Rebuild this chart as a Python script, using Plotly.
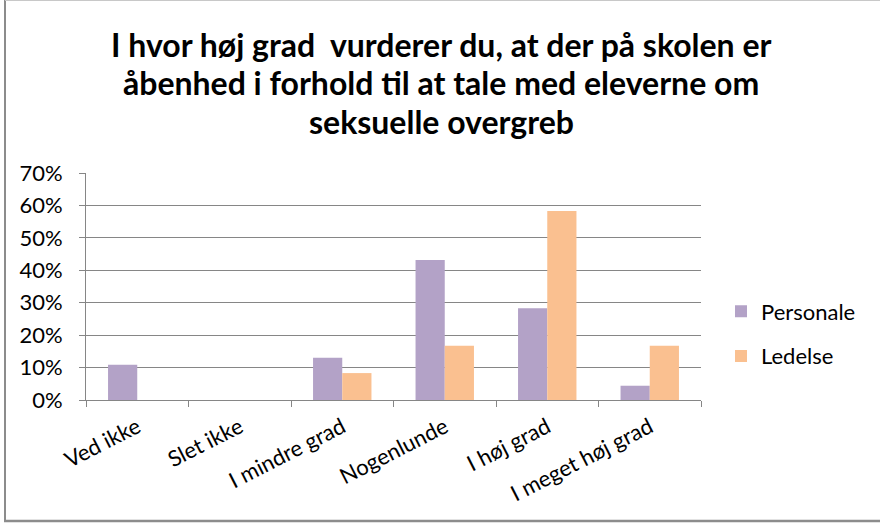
import plotly.graph_objects as go

categories = ["Ved ikke", "Slet ikke", "I mindre grad", "Nogenlunde", "I høj grad", "I meget høj grad"]
personale = [0.109, 0.0, 0.130, 0.432, 0.283, 0.044]
ledelse = [0.0, 0.0, 0.083, 0.167, 0.583, 0.167]
y_ticks = [0, 0.1, 0.2, 0.3, 0.4, 0.5, 0.6, 0.7]
title_lines = [
    "I hvor høj grad  vurderer du, at der på skolen er",
    "åbenhed i forhold til at tale med eleverne om",
    "seksuelle overgreb",
]

W, H = 880, 524
L, R, T, B = 86, 701, 173, 400  # plot area in pixels

FONT = "Lato, Calibri, 'Open Sans', sans-serif"

fig = go.Figure()
fig.add_trace(go.Bar(name="Personale", x=categories, y=personale,
                     marker=dict(color="#b3a2c7", line=dict(width=0)),
                     legendgroup="p"))
fig.add_trace(go.Bar(name="Ledelse", x=categories, y=ledelse,
                     marker=dict(color="#fac090", line=dict(width=0)),
                     legendgroup="l"))

def px_x(x):
    return (x - L) / (R - L)

def px_y(y):
    return (B - y) / (B - T)

# title, one annotation per line so the line spacing can be set exactly
title_y = [44, 82, 121]
annotations = [
    dict(text=f"<b>{line}</b>", xref="paper", yref="paper",
         x=px_x(441), y=px_y(yc), xanchor="center", yanchor="middle",
         showarrow=False, font=dict(family=FONT, size=32, color="#000000"))
    for line, yc in zip(title_lines, title_y)
]

fig.update_layout(
    width=W, height=H,
    margin=dict(l=L, r=W - R, t=T, b=H - B, pad=0),
    paper_bgcolor="white", plot_bgcolor="white",
    barmode="group", bargap=0.43, bargroupgap=0,
    font=dict(family=FONT, color="#000000", size=22),
    annotations=annotations,
    xaxis=dict(
        tickson="boundaries", ticks="outside", ticklen=6, tickcolor="#868686",
        showline=True, linecolor="#868686", linewidth=1,
        tickangle=-27, tickfont=dict(size=22, family=FONT),
        ticklabelstandoff=5,
        showgrid=False, automargin=False,
    ),
    yaxis=dict(
        range=[0, 0.7], tickvals=y_ticks, tickformat=".0%",
        ticks="outside", ticklen=6, tickcolor="#868686",
        showline=True, linecolor="#868686", linewidth=1,
        showgrid=True, gridcolor="#868686", gridwidth=1,
        tickfont=dict(size=22, family=FONT), ticklabelstandoff=12,
        zeroline=False, automargin=False,
    ),
    legend=dict(
        x=px_x(721), xanchor="left", y=px_y(334), yanchor="middle",
        font=dict(size=22, family=FONT), traceorder="grouped",
        tracegroupgap=13, itemwidth=30, bgcolor="rgba(0,0,0,0)",
    ),
    shapes=[
        dict(type="line", xref="paper", yref="paper",
             x0=px_x(5), x1=px_x(5), y0=px_y(0), y1=px_y(522),
             line=dict(color="#8c8c8c", width=2)),
        dict(type="line", xref="paper", yref="paper",
             x0=px_x(4), x1=px_x(880), y0=px_y(521), y1=px_y(521),
             line=dict(color="#8c8c8c", width=2.5)),
        dict(type="line", xref="paper", yref="paper",
             x0=px_x(5), x1=px_x(880), y0=px_y(0.5), y1=px_y(0.5),
             line=dict(color="#c8c8c8", width=1)),
    ],
)

fig.write_html("out.html")
